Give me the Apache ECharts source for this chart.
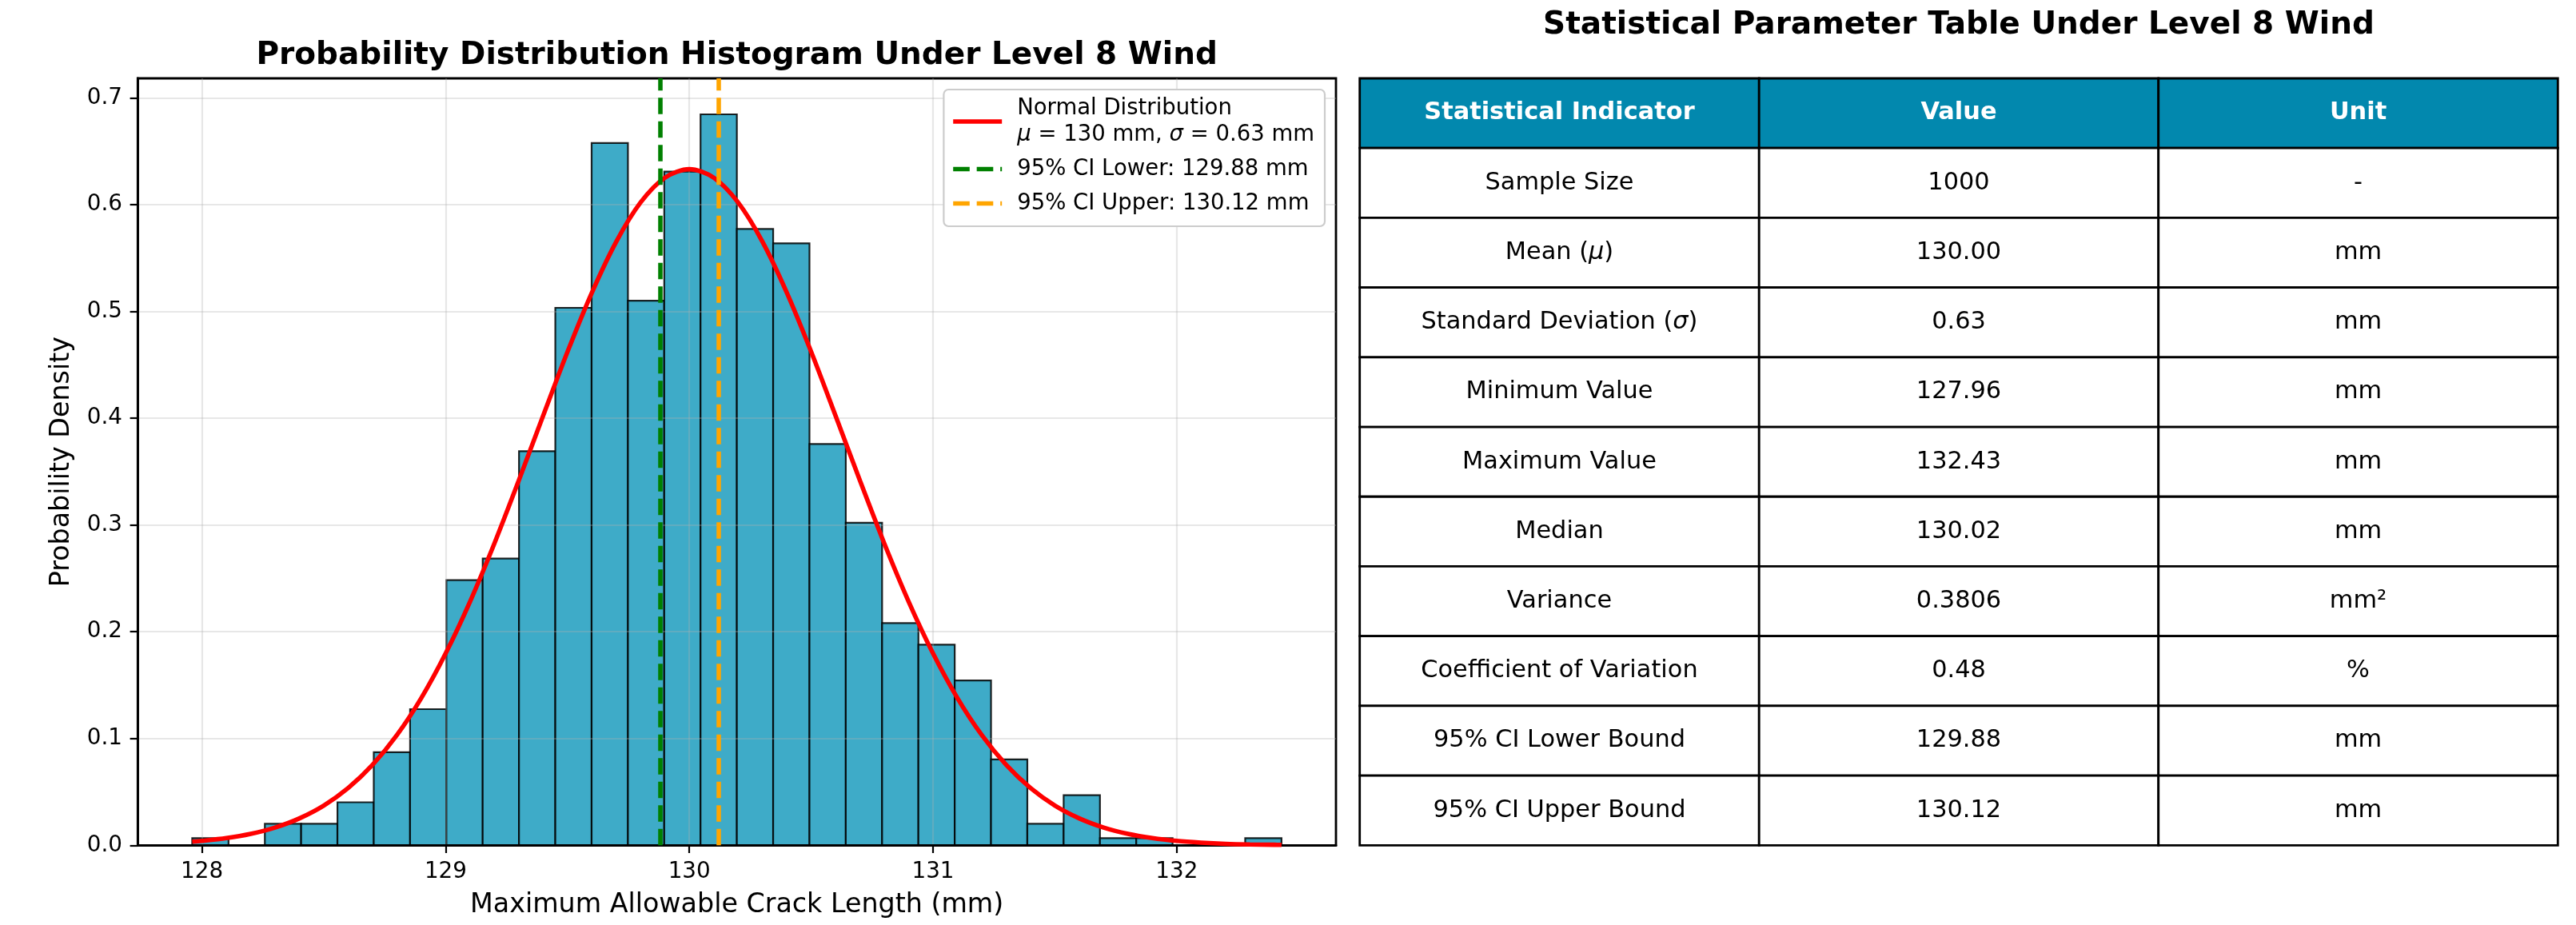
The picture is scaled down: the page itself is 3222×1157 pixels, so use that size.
<!DOCTYPE html>
<html>
<head>
<meta charset="utf-8">
<script src="https://cdn.jsdelivr.net/npm/echarts@6/dist/echarts.min.js"></script>
<style>
html,body{margin:0;padding:0;background:#fff;}
#c{width:3222px;height:1157px;}
</style>
</head>
<body>
<div id="c"></div>
<script>
// ---------------- data ----------------
const binEdges = [127.960,128.109,128.258,128.407,128.556,128.705,128.854,129.003,129.152,129.301,
  129.450,129.599,129.748,129.897,130.046,130.195,130.344,130.493,130.642,130.791,
  130.940,131.089,131.238,131.387,131.536,131.685,131.834,131.983,132.132,132.281,132.430];
const densities = [0.0067,0,0.0201,0.0201,0.0403,0.0872,0.1275,0.2483,0.2685,0.3691,
  0.5034,0.6577,0.5101,0.6309,0.6846,0.5772,0.5638,0.3758,0.3020,0.2081,
  0.1879,0.1544,0.0805,0.0201,0.0470,0.0067,0.0067,0,0,0.0067];
const curveX = [127.96,128.0,128.1,128.2,128.3,128.4,128.5,128.6,128.7,128.8,128.9,
  129.0,129.1,129.2,129.3,129.4,129.5,129.6,129.7,129.8,129.9,
  130.0,130.1,130.2,130.3,130.4,130.5,130.6,130.7,130.8,130.9,
  131.0,131.1,131.2,131.3,131.4,131.5,131.6,131.7,131.8,131.9,
  132.0,132.1,132.2,132.3,132.4,132.43];
const curveY = [0.0034,0.0041,0.0067,0.0107,0.0166,0.0252,0.0372,0.0536,0.0753,0.1032,0.1379,
  0.1797,0.2282,0.2827,0.3416,0.4023,0.4622,0.5176,0.5653,0.6021,0.6253,
  0.6332,0.6253,0.6021,0.5653,0.5176,0.4622,0.4023,0.3416,0.2827,0.2282,
  0.1797,0.1379,0.1032,0.0753,0.0536,0.0372,0.0252,0.0166,0.0107,0.0067,
  0.0041,0.0025,0.0014,0.0008,0.0005,0.0004];
const ciLower = 129.88;
const ciUpper = 130.12;
const xRange = [127.7365, 132.6535];
const yRange = [0, 0.7183];
const xTicks = [128, 129, 130, 131, 132];
const yTicks = [0, 0.1, 0.2, 0.3, 0.4, 0.5, 0.6, 0.7];

const tableHeaders = ['Statistical Indicator', 'Value', 'Unit'];
const indicatorNames = ['Sample Size','Mean (μ)','Standard Deviation (σ)','Minimum Value','Maximum Value',
  'Median','Variance','Coefficient of Variation','95% CI Lower Bound','95% CI Upper Bound'];
const indicatorValues = ['1000','130.00','0.63','127.96','132.43','130.02','0.3806','0.48','129.88','130.12'];
const indicatorUnits = ['-','mm','mm','mm','mm','mm','mm²','%','mm','mm'];

// ---------------- styling ----------------
const FONT = 'DejaVu Sans';
const BAR_COLOR = '#3EABC8';
const HEADER_COLOR = '#0288AE';
const DASH = [20.6, 8.9];
const LW = 5.56;

const curveName = 'Normal Distribution';
const lowerName = '95% CI Lower: ' + ciLower.toFixed(2) + ' mm';
const upperName = '95% CI Upper: ' + ciUpper.toFixed(2) + ' mm';

const histData = densities.map((d, i) => [binEdges[i], binEdges[i + 1], d]);
const curveData = curveX.map((x, i) => [x, curveY[i]]);

const rowKeys = ['header'].concat(indicatorNames.map((_, i) => 'r' + i));
const cells = [];
tableHeaders.forEach((t, c) => cells.push({col: c, row: 0, text: t, header: true}));
indicatorNames.forEach((n, r) => {
  [n, indicatorValues[r], indicatorUnits[r]].forEach((t, c) =>
    cells.push({col: c, row: r + 1, text: t, header: false}));
});
function richify(s) {
  return '{n|' + s.replace(/([μσ])/g, '}{i|$1}{n|') + '}';
}

const chart = echarts.init(document.getElementById('c'), null, {renderer: 'canvas'});

const hiddenSymbol = {opacity: 0, color: 'transparent', borderWidth: 0};

const option = {
  animation: false,
  backgroundColor: '#ffffff',
  title: [
    {text: 'Probability Distribution Histogram Under Level 8 Wind', left: 921.7, top: 50, textAlign: 'center', padding: 0,
      textStyle: {fontSize: 39, fontWeight: 'bold', fontFamily: FONT, color: '#000'}},
    {text: 'Statistical Parameter Table Under Level 8 Wind', left: 2450, top: 12, textAlign: 'center', padding: 0,
      textStyle: {fontSize: 39, fontWeight: 'bold', fontFamily: FONT, color: '#000'}}
  ],
  legend: {
    orient: 'vertical', right: 1565, top: 112,
    itemWidth: 61, itemHeight: 14, itemGap: 10,
    padding: [7, 13, 12, 9],
    backgroundColor: '#fff', borderColor: '#cccccc', borderWidth: 2.2, borderRadius: 6,
    selectedMode: false,
    itemStyle: hiddenSymbol,
    lineStyle: {width: LW},
    textStyle: {fontSize: 27.5, fontFamily: FONT, color: '#000', lineHeight: 33, padding: [0, 0, 0, 14],
      rich: {
        t: {fontSize: 27.5, fontFamily: FONT, color: '#000', lineHeight: 33},
        i: {fontSize: 27.5, fontFamily: FONT, color: '#000', lineHeight: 33, fontStyle: 'italic'}
      }},
    formatter: function (name) {
      if (name === curveName) {
        return '{t|Normal Distribution}\n{i|μ}{t| = 130 mm, }{i|σ}{t| = 0.63 mm}';
      }
      return '{t|' + name + '}';
    },
    data: [
      {name: curveName, itemStyle: hiddenSymbol},
      {name: lowerName, itemStyle: hiddenSymbol, lineStyle: {type: DASH, width: LW, color: '#008000'}},
      {name: upperName, itemStyle: hiddenSymbol, lineStyle: {type: DASH, width: LW, color: '#ffa500'}}
    ]
  },
  grid: [
    {left: 172.3, top: 98, width: 1498.7, height: 959.3, show: true, borderColor: '#000', borderWidth: 2.8, containLabel: false},
    {left: 1700.7, top: 98, width: 1498.6, height: 959.3, show: false, containLabel: false}
  ],
  xAxis: [
    {type: 'value', gridIndex: 0, min: xRange[0], max: xRange[1], z: 3,
      axisLine: {show: true, onZero: false, lineStyle: {color: '#000', width: 2.8}},
      axisTick: {show: true, inside: false, length: 9.7, customValues: xTicks, lineStyle: {color: '#000', width: 2.2}},
      axisLabel: {show: true, customValues: xTicks, margin: 19.4, fontSize: 27.8, fontFamily: FONT, color: '#000',
        formatter: v => String(Math.round(v))},
      splitLine: {show: true, lineStyle: {color: 'rgba(176,176,176,0.3)', width: 2.2}},
      name: 'Maximum Allowable Crack Length (mm)', nameLocation: 'middle', nameGap: 59,
      nameTextStyle: {fontSize: 33.3, fontFamily: FONT, color: '#000'}},
    {type: 'category', gridIndex: 1, data: tableHeaders, show: false, boundaryGap: true}
  ],
  yAxis: [
    {type: 'value', gridIndex: 0, min: yRange[0], max: yRange[1], z: 3,
      axisLine: {show: true, lineStyle: {color: '#000', width: 2.8}},
      axisTick: {show: true, inside: false, length: 9.7, customValues: yTicks, lineStyle: {color: '#000', width: 2.2}},
      axisLabel: {show: true, customValues: yTicks, margin: 19.4, fontSize: 27.8, fontFamily: FONT, color: '#000',
        formatter: v => v.toFixed(1)},
      splitLine: {show: true, lineStyle: {color: 'rgba(176,176,176,0.3)', width: 2.2}},
      name: 'Probability Density', nameLocation: 'middle', nameGap: 78, nameRotate: 90,
      nameTextStyle: {fontSize: 33.3, fontFamily: FONT, color: '#000'}},
    {type: 'category', gridIndex: 1, data: rowKeys, show: false, inverse: true, boundaryGap: true}
  ],
  series: [
    {
      type: 'custom', name: 'hist', xAxisIndex: 0, yAxisIndex: 0, z: 1,
      dimensions: ['x0', 'x1', 'density'],
      encode: {x: [0, 1], y: 2},
      data: histData,
      silent: true,
      renderItem: function (params, api) {
        const a = api.coord([api.value(0), api.value(2)]);
        const b = api.coord([api.value(1), 0]);
        return {
          type: 'rect',
          shape: {x: a[0], y: a[1], width: b[0] - a[0], height: b[1] - a[1]},
          style: {fill: BAR_COLOR, stroke: 'rgba(0,0,0,0.85)', lineWidth: 2.2}
        };
      }
    },
    {
      type: 'line', name: curveName, xAxisIndex: 0, yAxisIndex: 0, z: 4,
      data: curveData, symbol: 'none', showSymbol: false, smooth: 0.3, silent: true,
      lineStyle: {color: '#ff0000', width: LW}, itemStyle: {color: '#ff0000'}
    },
    {
      type: 'line', name: lowerName, xAxisIndex: 0, yAxisIndex: 0, z: 5,
      data: [], symbol: 'none', silent: true,
      lineStyle: {color: '#008000', width: LW, type: DASH}, itemStyle: {color: '#008000'},
      markLine: {silent: true, symbol: ['none', 'none'], label: {show: false}, z: 5,
        lineStyle: {color: '#008000', width: LW, type: DASH},
        emphasis: {disabled: true},
        data: [{xAxis: ciLower}]}
    },
    {
      type: 'line', name: upperName, xAxisIndex: 0, yAxisIndex: 0, z: 5,
      data: [], symbol: 'none', silent: true,
      lineStyle: {color: '#ffa500', width: LW, type: DASH}, itemStyle: {color: '#ffa500'},
      markLine: {silent: true, symbol: ['none', 'none'], label: {show: false}, z: 5,
        lineStyle: {color: '#ffa500', width: LW, type: DASH},
        emphasis: {disabled: true},
        data: [{xAxis: ciUpper}]}
    },
    {
      type: 'custom', name: 'table', xAxisIndex: 1, yAxisIndex: 1, silent: true,
      data: cells.map(c => [c.col, c.row]),
      renderItem: function (params, api) {
        const cell = cells[params.dataIndex];
        const p = api.coord([api.value(0), api.value(1)]);
        const s = api.size([1, 1]);
        return {
          type: 'group',
          children: [
            {type: 'rect',
              shape: {x: p[0] - s[0] / 2, y: p[1] - s[1] / 2, width: s[0], height: s[1]},
              style: {fill: cell.header ? HEADER_COLOR : '#ffffff', stroke: '#000', lineWidth: 2.8}},
            {type: 'text',
              style: {
                x: p[0], y: p[1],
                text: cell.header ? cell.text : richify(cell.text),
                align: 'center', verticalAlign: 'middle',
                fill: cell.header ? '#ffffff' : '#000000',
                fontSize: 30.4, fontFamily: FONT, fontWeight: cell.header ? 'bold' : 'normal',
                rich: {
                  n: {fontSize: 30.4, fontFamily: FONT, fill: '#000'},
                  i: {fontSize: 30.4, fontFamily: FONT, fill: '#000', fontStyle: 'italic'}
                }
              }}
          ]
        };
      }
    }
  ]
};
chart.setOption(option);
</script>
</body>
</html>
